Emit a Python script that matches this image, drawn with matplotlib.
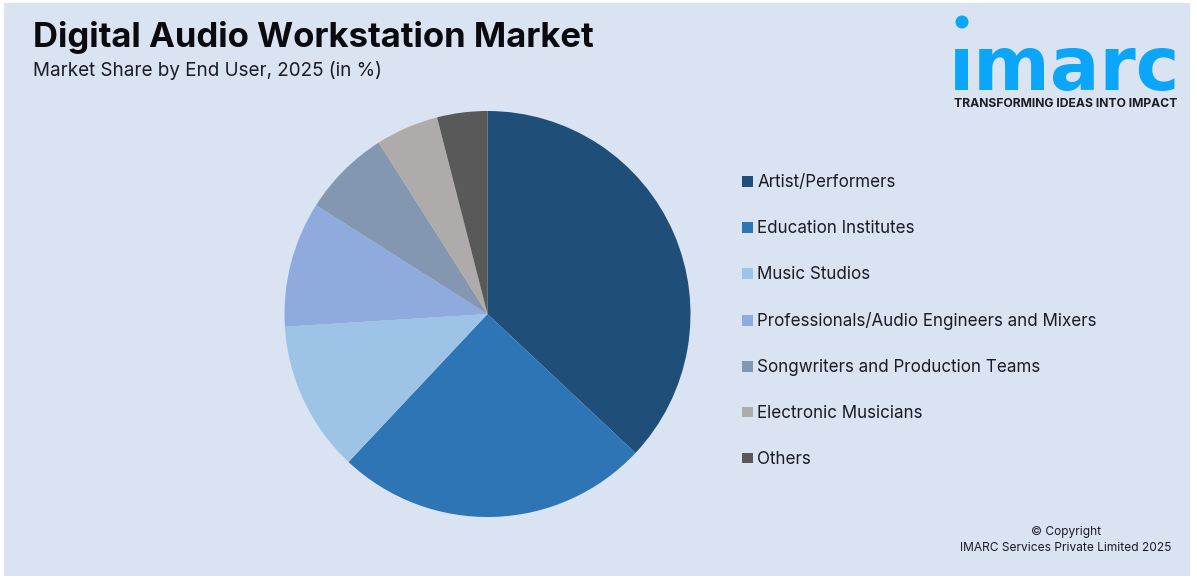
import matplotlib
matplotlib.use("Agg")
import matplotlib.pyplot as plt
from matplotlib.patches import Circle, Rectangle

W, H = 1197, 580

end_users = ["Artist/Performers", "Education Institutes", "Music Studios",
             "Professionals/Audio Engineers and Mixers",
             "Songwriters and Production Teams", "Electronic Musicians", "Others"]
shares = [37, 25, 12, 10, 7, 5, 4]
colors = ["#1F4E79", "#2E75B6", "#9DC3E6", "#8FAADC", "#8497B0", "#AFABAB", "#595959"]

plt.rcParams["font.family"] = ["Inter", "DejaVu Sans"]
INK = "#1c1c24"

fig = plt.figure(figsize=(W / 100, H / 100), dpi=100, facecolor="white")

# background layer in pixel coordinates
bg = fig.add_axes([0, 0, 1, 1])
bg.set_xlim(0, W)
bg.set_ylim(H, 0)
bg.axis("off")
bg.add_patch(Rectangle((4, 3), 1186, 573, facecolor="#DAE3F1", edgecolor="none"))

bg.text(33, 37, "Digital Audio Workstation Market", fontsize=25, fontweight="bold",
        color="#0a0a0f", va="center", ha="left")
bg.text(33, 71, "Market Share by End User, 2025 (in %)", fontsize=13.55, color=INK,
        va="center", ha="left")

# logo
bg.text(1065, 90, "\u0131marc", fontsize=53, fontweight="bold", color="#0BA5F9",
        family="DejaVu Sans", va="baseline", ha="center")
bg.add_patch(Circle((962, 22), 6.5, facecolor="#0BA5F9", edgecolor="none"))
bg.text(1066, 104, "TRANSFORMING IDEAS INTO IMPACT", fontsize=8.75, fontweight="bold",
        color="#1c1c24", va="center", ha="center")

bg.text(1066, 532, "\u00a9 Copyright", fontsize=8.6, color=INK, va="center", ha="center")
bg.text(1066, 548, "IMARC Services Private Limited 2025", fontsize=8.6, color=INK,
        va="center", ha="center")

# pie
r = 203
cx, cy = 487.5, 314
ax = fig.add_axes([(cx - r - 1) / W, 1 - (cy + r + 1) / H, (2 * r + 2) / W, (2 * r + 2) / H])
wedges, _ = ax.pie(shares, colors=colors, startangle=90, counterclock=False, radius=1)
ax.set_xlim(-(r + 1) / r, (r + 1) / r)
ax.set_ylim(-(r + 1) / r, (r + 1) / r)

leg = fig.legend(wedges, end_users, loc="upper left",
                 bbox_to_anchor=(739 / W, 1 - 171 / H), bbox_transform=fig.transFigure,
                 frameon=False, fontsize=12.25, labelspacing=1.7, handlelength=0.6,
                 handleheight=0.6, handletextpad=0.27, borderpad=0.2, borderaxespad=0,
                 labelcolor=INK)

fig.savefig("out.png", dpi=100, facecolor=fig.get_facecolor())
